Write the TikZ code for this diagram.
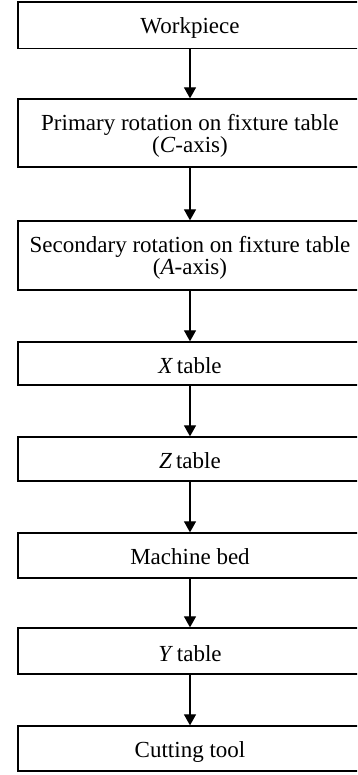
\documentclass[tikz,border=0pt]{standalone}
\usepackage{fontspec}
\setmainfont{Liberation Serif}
\usetikzlibrary{arrows.meta}
\begin{document}
\begin{tikzpicture}[x=1pt,y=1pt,
  stage/.style={draw, line width=1.3pt, rectangle, minimum width=344pt, inner sep=0pt},
  caption/.style={inner sep=0pt, align=center, font=\fontsize{23}{22}\selectfont},
  link/.style={line width=1.2pt, -{Triangle[length=11pt,width=12pt]}}]
\useasboundingbox (0,0) rectangle (357,-775);
\clip (0,0) rectangle (357,-775);
% boxes of the kinematic chain, from workpiece to tool
\node[stage, minimum height=46.5pt] (work) at (190,-25.25) {};
\node[stage, minimum height=68pt] (prim) at (190,-133) {};
\node[stage, minimum height=69pt] (sec) at (190,-255.5) {};
\node[stage, minimum height=43pt] (xt) at (190,-363.5) {};
\node[stage, minimum height=44pt] (zt) at (190,-459) {};
\node[stage, minimum height=45pt] (bed) at (190,-555.5) {};
\node[stage, minimum height=46pt] (yt) at (190,-651) {};
\node[stage, minimum height=45pt] (tool) at (190,-748.5) {};
% box texts, set slightly below the box centres
\node[caption] (work-t) at ([yshift=-2.5pt]work.center) {Workpiece};
\node[caption] (prim-t) at ([yshift=-2.5pt]prim.center) {Primary rotation on fixture table\\(\textit{C}-axis)};
\node[caption] (sec-t) at ([yshift=-2.5pt]sec.center) {Secondary rotation on fixture table\\(\textit{A}-axis)};
\node[caption] (xt-t) at ([yshift=-2pt]xt.center) {\textit{X}\,table};
\node[caption] (zt-t) at ([yshift=-1.5pt]zt.center) {\textit{Z}\,table};
\node[caption] (bed-t) at ([yshift=-1pt]bed.center) {Machine bed};
\node[caption] (yt-t) at ([yshift=-2.5pt]yt.center) {\textit{Y}\,table};
\node[caption] (tool-t) at ([yshift=-3.5pt]tool.center) {Cutting tool};
% connectors
\draw[link] (work) -- (prim);
\draw[link] (prim) -- (sec);
\draw[link] (sec) -- (xt);
\draw[link] (xt) -- (zt);
\draw[link] (zt) -- (bed);
\draw[link] (bed) -- (yt);
\draw[link] (yt) -- (tool);
\end{tikzpicture}
\end{document}
